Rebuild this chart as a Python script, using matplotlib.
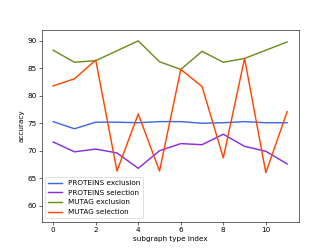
import numpy as np
import matplotlib
matplotlib.use("Agg")
import matplotlib.pyplot as plt

# subgraph type index
idx = np.arange(12)

proteins_excl = [75.3, 74.0, 75.2, 75.2, 75.1, 75.3, 75.3, 75.0, 75.1, 75.3, 75.1, 75.1]
proteins_sel = [71.6, 69.8, 70.3, 69.6, 66.8, 70.0, 71.3, 71.1, 73.0, 70.8, 69.9, 67.6]
mutag_excl = [88.3, 86.1, 86.4, 88.2, 90.0, 86.2, 84.8, 88.1, 86.1, 86.8, 88.3, 89.8]
mutag_sel = [81.8, 83.1, 86.5, 66.3, 76.7, 66.3, 84.8, 81.7, 68.7, 86.8, 66.0, 77.1]

fig, ax = plt.subplots(figsize=(6.4, 4.8), dpi=51.875)

ax.plot(idx, proteins_excl, color="royalblue", linewidth=2, label="PROTEINS exclusion")
ax.plot(idx, proteins_sel, color="blueviolet", linewidth=2, label="PROTEINS selection")
ax.plot(idx, mutag_excl, color="olivedrab", linewidth=2, label="MUTAG exclusion")
ax.plot(idx, mutag_sel, color="orangered", linewidth=2, label="MUTAG selection")

ax.set_ylim(57.1, 92.0)
ax.set_xlabel("subgraph type index")
ax.set_ylabel("accuracy")
ax.legend(loc="lower left")

fig.savefig("out.png", dpi=51.875)
